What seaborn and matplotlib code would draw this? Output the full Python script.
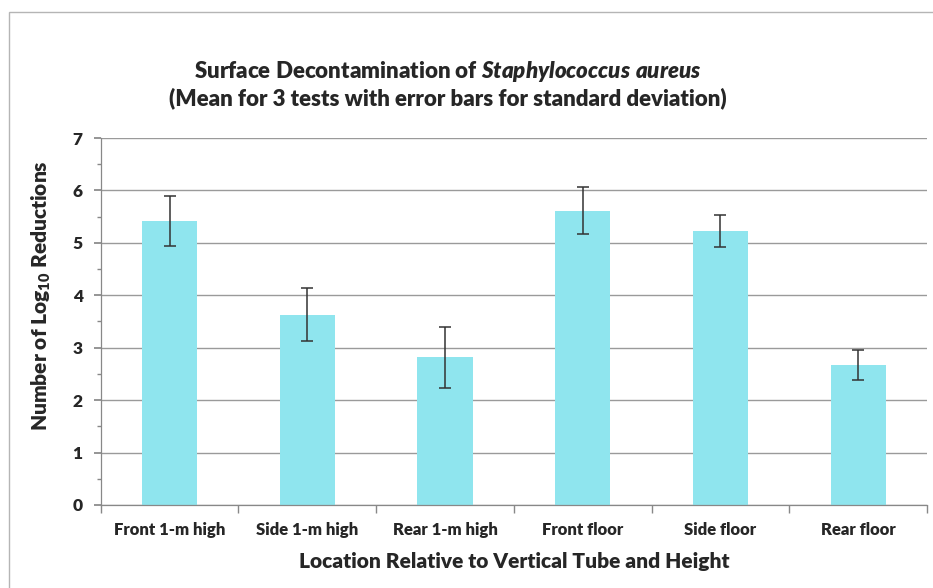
import matplotlib
matplotlib.use("Agg")
import matplotlib.pyplot as plt
import seaborn as sns
import pandas as pd
import numpy as np
from matplotlib.patches import Rectangle
from matplotlib.ticker import MultipleLocator

categories = ["Front 1-m high", "Side 1-m high", "Rear 1-m high",
              "Front floor", "Side floor", "Rear floor"]
means = [5.42, 3.63, 2.82, 5.61, 5.23, 2.67]
sds = [0.48, 0.50, 0.58, 0.45, 0.31, 0.28]
y_ticks = [0, 1, 2, 3, 4, 5, 6, 7]

W = "heavy"
sns.set_theme(style="white")
plt.rcParams['font.family'] = ['Lato', 'DejaVu Sans']
plt.rcParams['mathtext.fontset'] = 'custom'
plt.rcParams['mathtext.rm'] = 'Lato:heavy'
plt.rcParams['mathtext.bf'] = 'Lato:heavy'
plt.rcParams['mathtext.it'] = 'Lato:heavy:italic'

df = pd.DataFrame({"Location": categories, "Mean": means, "SD": sds})

fig = plt.figure(figsize=(9.33, 5.88), dpi=100)
fig.patch.set_facecolor("white")
ax = fig.add_axes([0.108, 0.1412, 0.8856, 0.6241])

sns.barplot(data=df, x="Location", y="Mean", color="#8FE5EE", saturation=1,
            width=0.4, ax=ax, errorbar=None, zorder=2, linewidth=0)
ax.errorbar(x=np.arange(len(categories)), y=df["Mean"], yerr=df["SD"],
            fmt="none", ecolor="#333333", elinewidth=1.1, capsize=4,
            capthick=1.1, zorder=3)

ax.set_ylim(0, 7)
ax.set_xlim(-0.5, len(categories) - 0.5)
ax.set_yticks(y_ticks)
ax.yaxis.set_minor_locator(MultipleLocator(0.5))
ax.grid(axis="y", which="major", color="#9a9a9a", linewidth=1.0, zorder=0)
ax.set_axisbelow(True)

for s in ["top", "right"]:
    ax.spines[s].set_visible(False)
ax.spines["left"].set_color("#888888")
ax.spines["bottom"].set_color("#888888")
ax.spines["left"].set_linewidth(0.9)
ax.spines["bottom"].set_linewidth(0.9)

ax.tick_params(axis="y", which="major", left=True, length=5, color="#888888",
               labelsize=12.5, pad=8)
ax.tick_params(axis="y", which="minor", left=True, length=3, color="#888888")
for lab in ax.get_yticklabels():
    lab.set_fontweight(W)

# x: ticks at category boundaries, labels at centres
ax.set_xticks(np.arange(len(categories)))
ax.set_xticklabels(categories, fontsize=12, fontweight=W)
ax.tick_params(axis="x", which="major", bottom=False, pad=6)
ax.set_xticks(np.arange(len(categories) + 1) - 0.5, minor=True)
ax.tick_params(axis="x", which="minor", bottom=True, length=6, color="#888888")

ax.set_xlabel("Location Relative to Vertical Tube and Height", fontsize=15,
              fontweight=W, labelpad=10)
ax.set_ylabel("Number of Log$_{\\mathbf{10}}$ Reductions", fontsize=15,
              fontweight=W)
ax.yaxis.set_label_coords(-0.058, 0.57)

fig.text(0.48, 1 - 72 / 588, "Surface Decontamination of $Staphylococcus\\ aureus$",
         ha="center", va="center", fontsize=16, fontweight=W)
fig.text(0.48, 1 - 98 / 588, "(Mean for 3 tests with error bars for standard deviation)",
         ha="center", va="center", fontsize=16, fontweight=W)

fig.patches.append(Rectangle((9 / 933, -0.1), 1.2, 1.1 - 12 / 588,
                             transform=fig.transFigure, fill=False,
                             edgecolor="#b5b5b5", linewidth=1.0))

fig.savefig("out.png", dpi=100)
